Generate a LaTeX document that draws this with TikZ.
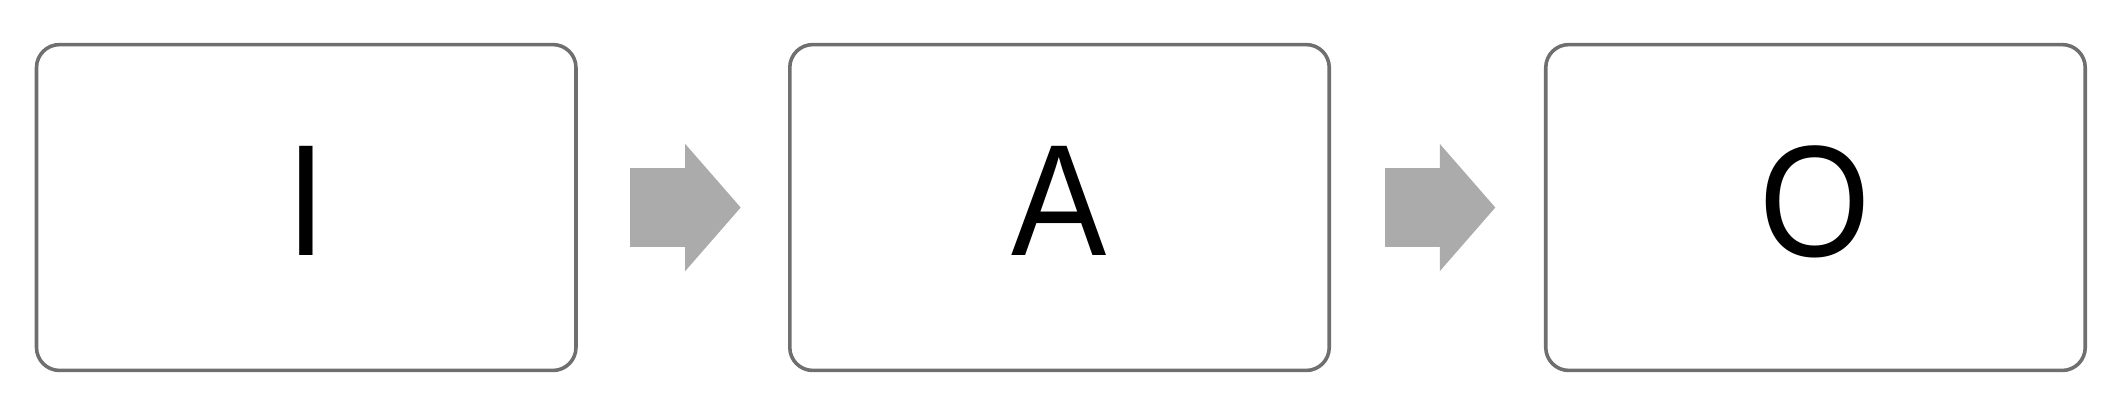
\documentclass[tikz,border=0pt]{standalone}
\usepackage{fontspec}
\setmainfont[FakeStretch=0.9]{Liberation Sans}
\usetikzlibrary{arrows.meta, positioning}
\definecolor{boxgray}{HTML}{6F6F6F}
\definecolor{arrowgray}{HTML}{ABABAB}
\tikzset{
  stage/.style = {draw=boxgray, line width=0.75pt, rounded corners=0.17cm, minimum width=3.99cm, minimum height=2.41cm, inner sep=0pt, text depth=0.1cm, font=\fontsize{33.4}{40}\selectfont},
  flow/.style = {draw=arrowgray, line width=0.59cm, -{Triangle[length=0.41cm, width=0.94cm, line width=0pt]}}
}
\begin{document}
\begin{tikzpicture}
    \useasboundingbox (0,0) rectangle (15.68,3.07);

    % Place the stages
    \node [stage] (input) at (2.265,1.535) {I};
    \node [stage, right=1.555cm of input] (activity) {A};
    \node [stage, right=1.575cm of activity] (output) {O};

    % Block arrows between the stages
    \draw [flow] ([xshift=0.39cm]input.east) -- ([xshift=-0.35cm]activity.west);
    \draw [flow] ([xshift=0.4cm]activity.east) -- ([xshift=-0.36cm]output.west);

\end{tikzpicture}
\end{document}
